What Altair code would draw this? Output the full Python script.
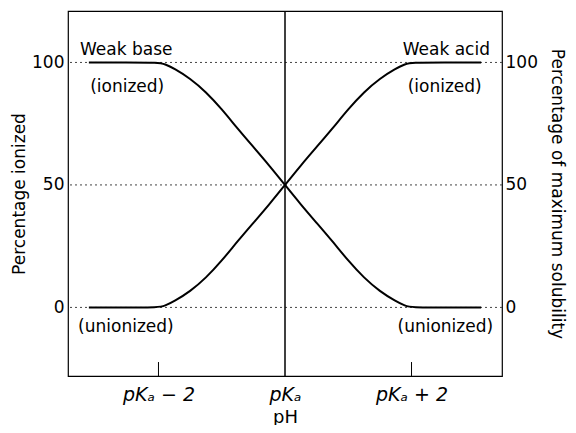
import altair as alt
import pandas as pd

# pH expressed relative to pKa
ph = [-3.1, -2.5, -2.0, -1.9, -1.75, -1.5, -1.25, -1.0, -0.75, -0.5, -0.25, 0.0,
      0.25, 0.5, 0.75, 1.0, 1.25, 1.5, 1.75, 1.9, 2.0, 2.5, 3.1]
weak_base = [100, 100, 100, 99.4, 97.5, 93.5, 88, 81, 73, 65.5, 58, 50,
             42, 34.5, 27, 19, 12, 6.5, 2.5, 0.6, 0, 0, 0]
weak_acid = [0, 0, 0, 0.6, 2.5, 6.5, 12, 19, 27, 34.5, 42, 50,
             58, 65.5, 73, 81, 88, 93.5, 97.5, 99.4, 100, 100, 100]

xtick_vals = [-2, 0, 2]
xtick_labels = ["pKₐ − 2", "pKₐ", "pKₐ + 2"]
ytick_vals = [0, 50, 100]

left_text = ["Weak base", "(ionized)", "(unionized)"]
left_x = [-3.24, -3.08, -3.27]
left_y = [103.1, 88.1, -10.0]
right_text = ["Weak acid", "(ionized)", "(unionized)"]
right_x = [3.24, 3.11, 3.29]
right_y = [103.1, 88.1, -10.0]

XDOM = [-3.43, 3.43]
YDOM = [-28, 121]

curves = pd.DataFrame({
    "ph": ph * 2,
    "pct": weak_base + weak_acid,
    "series": ["Weak base"] * len(ph) + ["Weak acid"] * len(ph),
})
grid_df = pd.DataFrame({"y": ytick_vals})
tick_df = pd.DataFrame({"x": [v for v in xtick_vals if v != 0]})
ltext = pd.DataFrame({"x": left_x, "y": left_y, "t": left_text})
rtext = pd.DataFrame({"x": right_x, "y": right_y, "t": right_text})

label_expr = " : ".join(
    f"datum.value == {v} ? '{l}'" for v, l in zip(xtick_vals, xtick_labels)
) + " : ''"

x_axis = alt.Axis(values=xtick_vals, labelExpr=label_expr, ticks=False, domain=False,
                  grid=False, labelFontSize=19, labelFontStyle="italic", labelPadding=9,
                  labelColor="black", title="pH", titleFontSize=18, titleFontWeight="normal",
                  titleColor="black", titlePadding=4)


def X(field):
    return alt.X(field, type="quantitative",
                 scale=alt.Scale(domain=XDOM, nice=False, zero=False), axis=x_axis)


def yscale():
    return alt.Scale(domain=YDOM, nice=False, zero=False)


left_axis = alt.Axis(values=ytick_vals, ticks=False, domain=False, grid=False,
                     labelFontSize=17, labelPadding=4, labelColor="black",
                     title="Percentage ionized", titleFontSize=17, titleFontWeight="normal",
                     titleColor="black", titlePadding=3, orient="left")
right_axis = alt.Axis(values=ytick_vals, ticks=False, domain=False, grid=False,
                      labelFontSize=17, labelPadding=3, labelColor="black",
                      title="Percentage of maximum solubility", titleFontSize=17,
                      titleFontWeight="normal", titleColor="black", titlePadding=10,
                      orient="right")

grid = alt.Chart(grid_df).mark_rule(color="#444", strokeWidth=1, strokeDash=[2, 3]).encode(
    y=alt.Y("y:Q", scale=yscale(), axis=left_axis)
)
grid_r = alt.Chart(grid_df).mark_rule(opacity=0).encode(
    y=alt.Y("y:Q", scale=yscale(), axis=right_axis)
)
center = alt.Chart(pd.DataFrame({"x": [0]})).mark_rule(color="black", strokeWidth=1.5).encode(
    x=X("x")
)
ticks = alt.Chart(tick_df).mark_rule(color="black", strokeWidth=1).encode(
    x=X("x"),
    y=alt.datum(YDOM[0], scale=yscale(), axis=None),
    y2=alt.datum(YDOM[0] + 5.7),
)
lines = alt.Chart(curves).mark_line(color="black", strokeWidth=2, interpolate="basis").encode(
    x=X("ph"),
    y=alt.Y("pct:Q", scale=yscale(), axis=None),
    detail="series:N",
)
tl = alt.Chart(ltext).mark_text(align="left", baseline="alphabetic", fontSize=17,
                                color="black").encode(
    x=X("x"),
    y=alt.Y("y:Q", scale=yscale(), axis=None),
    text="t:N",
)
tr = alt.Chart(rtext).mark_text(align="right", baseline="alphabetic", fontSize=17,
                                color="black").encode(
    x=X("x"),
    y=alt.Y("y:Q", scale=yscale(), axis=None),
    text="t:N",
)

chart = alt.layer(grid, grid_r, center, ticks, lines, tl, tr).resolve_scale(
    y="independent"
).properties(
    width=434, height=365,
    autosize=alt.AutoSizeParams(type="none"),
    padding={"left": 60, "top": 3, "right": 66, "bottom": 49},
    background="white",
).configure(font="DejaVu Sans").configure_view(stroke="black", strokeWidth=1.2)

chart.save("out.html", embed_options={"renderer": "svg", "actions": False})
